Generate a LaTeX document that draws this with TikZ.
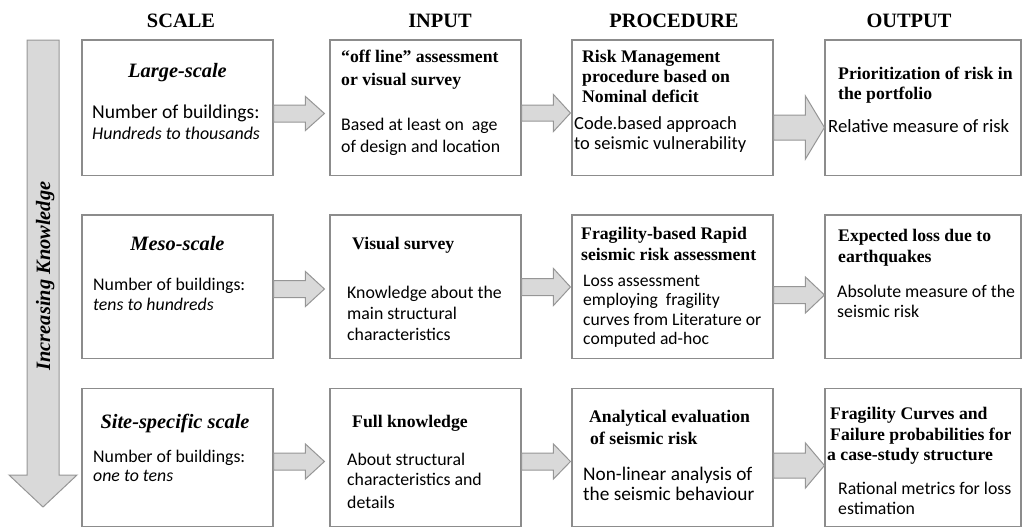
\documentclass[tikz,border=0pt]{standalone}
\usepackage{fontspec}
\setmainfont{Liberation Serif}
\newfontfamily\bodyfont{Carlito}
\usetikzlibrary{calc}

\definecolor{boxline}{RGB}{140,140,140}
\definecolor{arrowfill}{RGB}{217,217,217}
\definecolor{arrowline}{RGB}{150,150,150}

\tikzset{
  box/.style={draw=boxline, line width=1.1pt, rectangle, inner sep=0pt},
  colhead/.style={anchor=base, inner sep=0pt, font=\fontsize{20.4}{24}\selectfont\bfseries},
  scaletitle/.style={anchor=base, inner sep=0pt, font=\fontsize{20.4}{24}\selectfont\bfseries\itshape},
  title/.style={anchor=base west, inner sep=0pt, font=\fontsize{17.7}{21}\selectfont\bfseries},
  body/.style={anchor=base west, inner sep=0pt, font=\bodyfont\fontsize{#1}{21}\selectfont},
  body/.default=17.8,
  flow/.style={draw=arrowline, fill=arrowfill, line width=1pt, line join=miter},
}

% block arrow from the east side of #1 to the west side of #2
% #3 centre line, #4 half shaft, #5 half head, #6 head length, #7 gap before #2
\newcommand\flowarrow[7]{%
  \draw[flow]
    ($(#1.east |- 0,#3)+(0,#4)$) --
    ($(#2.west |- 0,#3)+(-#7-#6,#4)$) --
    ($(#2.west |- 0,#3)+(-#7-#6,#5)$) --
    ($(#2.west |- 0,#3)+(-#7,0)$) --
    ($(#2.west |- 0,#3)+(-#7-#6,-#5)$) --
    ($(#2.west |- 0,#3)+(-#7-#6,-#4)$) --
    ($(#1.east |- 0,#3)+(0,-#4)$) -- cycle;}

\begin{document}
\begin{tikzpicture}[x=1pt,y=-1pt]
\useasboundingbox (0,0) rectangle (1027,528);

% column headings
\node[colhead] (hscale) at (181,27) {SCALE};
\node[colhead] (hinput) at (440,27) {INPUT};
\node[colhead] (hproc)  at (674,27) {PROCEDURE};
\node[colhead] (hout)   at (909,27) {OUTPUT};

% increasing knowledge arrow
\draw[flow] (27,40) -- (59,40) -- (59,475) -- (77,475) -- (43,507) -- (9,475) -- (27,475) -- cycle;
\node[scaletitle, rotate=90] (know) at (50,276) {Increasing Knowledge};

% boxes
\node[box, minimum width=191pt, minimum height=135.5pt] (s1) at (177.5,107.75) {};
\node[box, minimum width=191pt, minimum height=135.5pt] (i1) at (425.5,107.75) {};
\node[box, minimum width=201pt, minimum height=135.5pt] (p1) at (672.5,107.75) {};
\node[box, minimum width=196pt, minimum height=135.5pt] (o1) at (923,107.75) {};

\node[box, minimum width=191pt, minimum height=143.5pt] (s2) at (177.5,286.75) {};
\node[box, minimum width=191pt, minimum height=143.5pt] (i2) at (425.5,286.75) {};
\node[box, minimum width=201pt, minimum height=143.5pt] (p2) at (672.5,286.75) {};
\node[box, minimum width=196pt, minimum height=143.5pt] (o2) at (923,286.75) {};

\node[box, minimum width=191pt, minimum height=138pt] (s3) at (177.5,457.5) {};
\node[box, minimum width=191pt, minimum height=138pt] (i3) at (425.5,457.5) {};
\node[box, minimum width=201pt, minimum height=138pt] (p3) at (672.5,457.5) {};
\node[box, minimum width=196pt, minimum height=138pt] (o3) at (923,457.5) {};

% connectors
\flowarrow{s1}{i1}{113.5}{8.5}{17}{19}{5}
\flowarrow{i1}{p1}{113}{8}{18.5}{17}{1}
\flowarrow{p1}{o1}{127.5}{12.5}{31.5}{19}{0}

\flowarrow{s2}{i2}{289}{8.5}{17.5}{19}{5}
\flowarrow{i2}{p2}{287}{8.5}{18.5}{17}{1}
\flowarrow{p2}{o2}{295}{8.5}{18}{19}{0}

\flowarrow{s3}{i3}{461.5}{8.5}{17.5}{19}{5}
\flowarrow{i3}{p3}{461.5}{8.5}{17.5}{17}{1}
\flowarrow{p3}{o3}{465.5}{12.5}{22.5}{19}{0}

% large-scale row
\node[scaletitle] (s1t) at (177.5,77) {Large-scale};
\node[body=19.6] (s1a) at (92,118) {Number of buildings:};
\node[body=17.9] (s1b) at (92,139) {\itshape Hundreds to thousands};

\node[title] (i1t1) at (341,62) {“off line” assessment};
\node[title] (i1t2) at (341,85) {or visual survey};
\node[body] (i1a) at (341,130) {Based at least on\ \ age};
\node[body] (i1b) at (341,152) {of design and location};

\node[title] (p1t1) at (582,62) {Risk Management};
\node[title] (p1t2) at (582,82) {procedure based on};
\node[title] (p1t3) at (582,102) {Nominal deficit};
\node[body=18.5] (p1a) at (574,129) {Code.based approach};
\node[body=18.5] (p1b) at (574,149) {to seismic vulnerability};

\node[title] (o1t1) at (838,79) {Prioritization of risk in};
\node[title] (o1t2) at (838,99) {the portfolio};
\node[body=18.7] (o1a) at (828,132) {Relative measure of risk};

% meso-scale row
\node[scaletitle] (s2t) at (177.5,250) {Meso-scale};
\node[body] (s2a) at (93,290) {Number of buildings:};
\node[body] (s2b) at (93,310) {\itshape tens to hundreds};

\node[title] (i2t) at (352,249) {Visual survey};
\node[body] (i2a) at (347,298) {Knowledge about the};
\node[body] (i2b) at (347,319) {main structural};
\node[body] (i2c) at (347,340) {characteristics};

\node[title] (p2t1) at (581,239) {Fragility-based Rapid};
\node[title] (p2t2) at (581,260) {seismic risk assessment};
\node[body=17.6] (p2a) at (583,286) {Loss assessment};
\node[body=17.6] (p2b) at (583,305) {employing\ \ fragility};
\node[body=17.6] (p2c) at (583,325) {curves from Literature or};
\node[body=17.6] (p2d) at (583,344) {computed ad-hoc};

\node[title] (o2t1) at (838,241) {Expected loss due to};
\node[title] (o2t2) at (838,262) {earthquakes};
\node[body] (o2a) at (837,297) {Absolute measure of the};
\node[body] (o2b) at (837,317) {seismic risk};

% site-specific row
\node[scaletitle] (s3t) at (175,428) {Site-specific scale};
\node[body] (s3a) at (93,462) {Number of buildings:};
\node[body] (s3b) at (93,481) {\itshape one to tens};

\node[title] (i3t) at (352,427) {Full knowledge};
\node[body] (i3a) at (347,465) {About structural};
\node[body] (i3b) at (347,485) {characteristics and};
\node[body] (i3c) at (347,508) {details};

\node[title] (p3t1) at (589,422) {Analytical evaluation};
\node[title] (p3t2) at (590,444) {of seismic risk};
\node[body=19.3] (p3a) at (583,480) {Non-linear analysis of};
\node[body=19.3] (p3b) at (583,500) {the seismic behaviour};

\node[title] (o3t1) at (830,419) {Fragility Curves and};
\node[title] (o3t2) at (830,440) {Failure probabilities for};
\node[title] (o3t3) at (827,460) {a case-study structure};
\node[body] (o3a) at (838,494) {Rational metrics for loss};
\node[body] (o3b) at (838,514) {estimation};
\end{tikzpicture}
\end{document}
